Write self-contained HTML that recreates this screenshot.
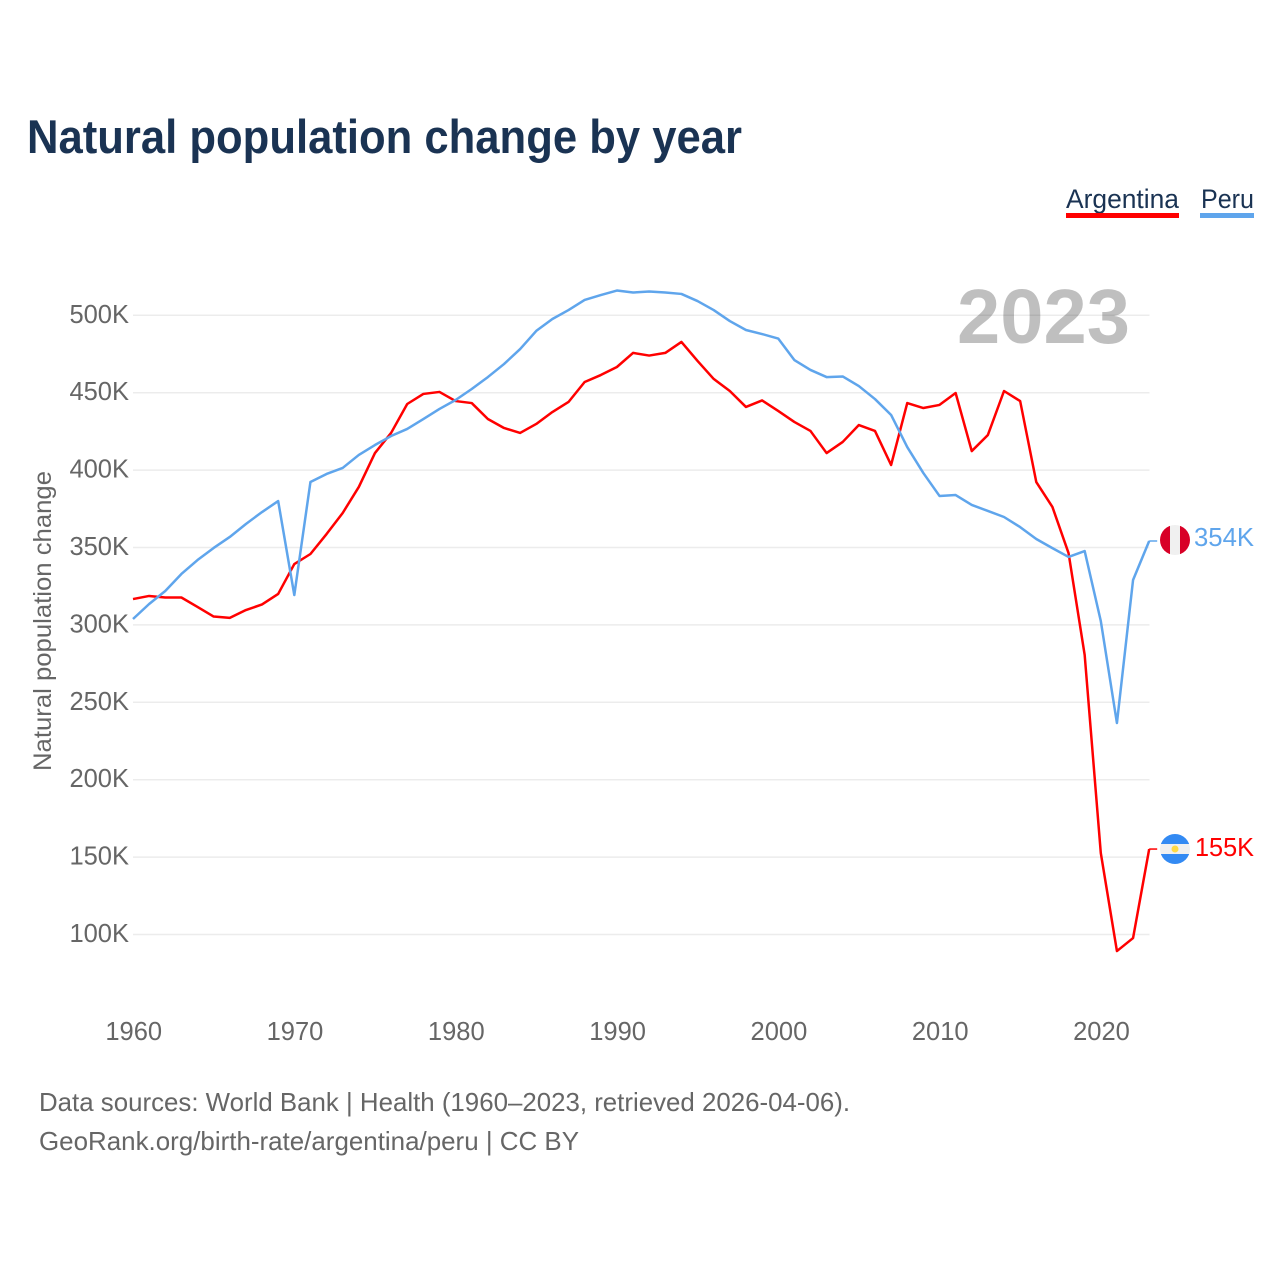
<!DOCTYPE html>
<html lang="en">
<head>
<meta charset="utf-8">
<title>Natural population change by year</title>
<style>
html,body{margin:0;padding:0;background:#fff;}
svg{display:block;font-family:"Liberation Sans",sans-serif;}
</style>
</head>
<body>
<svg id="chart" xmlns="http://www.w3.org/2000/svg" width="1280" height="1280" viewBox="0 0 1280 1280">
  <defs>
    <clipPath id="flag-clip-pe"><circle cx="1175" cy="540" r="15"/></clipPath>
    <clipPath id="flag-clip-ar"><circle cx="1175" cy="849" r="15"/></clipPath>
  </defs>
  <rect width="1280" height="1280" fill="#fff"/>
  <text x="27" y="153" font-size="47" font-weight="700" fill="#1a3353" textLength="715" lengthAdjust="spacingAndGlyphs">Natural population change by year</text>

  <g>
    <g>
      <text x="1066" y="208" font-size="27" fill="#1a3353" textLength="113" lengthAdjust="spacingAndGlyphs">Argentina</text>
      <rect x="1066" y="213" width="113" height="5" fill="#ff0000"/>
    </g>
    <g>
      <text x="1201" y="208" font-size="27" fill="#1a3353" textLength="53" lengthAdjust="spacingAndGlyphs">Peru</text>
      <rect x="1200" y="213" width="54" height="5" fill="#5fa5ec"/>
    </g>
  </g>

  <g id="grid"></g>
  <g id="yticks"></g>
  <g id="xticks"></g>
  <text transform="translate(51 621) rotate(-90)" text-anchor="middle" font-size="25" fill="#666" textLength="300" lengthAdjust="spacingAndGlyphs">Natural population change</text>

  <text x="957" y="343" font-size="77" font-weight="700" fill="#000" fill-opacity="0.25" textLength="173" lengthAdjust="spacingAndGlyphs">2023</text>

  <g id="series"></g>

  <g clip-path="url(#flag-clip-pe)">
    <rect x="1160" y="525" width="10" height="30" fill="#d80027"/>
    <rect x="1170" y="525" width="10" height="30" fill="#f0f0f0"/>
    <rect x="1180" y="525" width="10" height="30" fill="#d80027"/>
  </g>
  <text x="1194" y="546" font-size="25.5" fill="#5fa5ec" textLength="60" lengthAdjust="spacingAndGlyphs">354K</text>

  <g clip-path="url(#flag-clip-ar)">
    <rect x="1160" y="834" width="30" height="10" fill="#338af3"/>
    <rect x="1160" y="844" width="30" height="10" fill="#f0f0f0"/>
    <rect x="1160" y="854" width="30" height="10" fill="#338af3"/>
    <circle cx="1175" cy="849" r="3.5" fill="#ffda44"/>
  </g>
  <text x="1195" y="856" font-size="25.5" fill="#ff0000" textLength="59" lengthAdjust="spacingAndGlyphs">155K</text>

  <text x="39" y="1111" font-size="26" fill="#666" textLength="811" lengthAdjust="spacingAndGlyphs">Data sources: World Bank | Health (1960–2023, retrieved 2026-04-06).</text>
  <text x="39" y="1150" font-size="26" fill="#666" textLength="540" lengthAdjust="spacingAndGlyphs">GeoRank.org/birth-rate/argentina/peru | CC BY</text>
</svg>
<script>
var startYear = 1960;
var yTickValues = [100, 150, 200, 250, 300, 350, 400, 450, 500];
var yTickLabels = ["100K", "150K", "200K", "250K", "300K", "350K", "400K", "450K", "500K"];
var xTickValues = [1960, 1970, 1980, 1990, 2000, 2010, 2020];
var xTickLabels = ["1960", "1970", "1980", "1990", "2000", "2010", "2020"];
var argentinaValues = [316.7,318.7,317.7,317.7,311.6,305.4,304.5,309.6,313.2,320,339.3,345.8,358.7,372.3,389.1,411,424,442.7,449.2,450.5,444.6,443.3,433,427.2,424,429.8,437.5,444,456.9,461.4,466.6,475.7,474,475.7,482.8,470.5,458.9,451.1,440.8,445,438.2,431.1,425.3,411,418.2,429.1,425.3,403.3,443.3,440.1,442.1,449.8,412.3,422.7,451.1,444.6,392.3,376.2,346.4,280.6,152.6,89.3,97.7,155.2];
var peruValues = [303.8,313.5,321.9,332.9,341.9,349.7,356.8,365.2,372.9,380,319.3,392.3,397.5,401.4,409.8,416.2,422,426.6,433,439.5,445.3,452.4,460.1,468.5,478.2,489.9,497.6,503.4,509.9,513.1,516,514.7,515.4,514.7,513.8,509.2,503.4,496.3,490.5,487.9,485,471.1,464.7,460.1,460.5,454.3,445.9,435.6,414.9,398.1,383.3,383.9,377.5,373.6,369.7,363.2,355.5,349.6,343.9,347.7,302.5,236.6,329,354.2];

var NS = "http://www.w3.org/2000/svg";
function xScale(year) { return 133 + (year - 1960) * 16.13; }
function yScale(value) { return 934.5 - (value - 100) * 1.548; }
function svgEl(tag, attrs, parent) {
  var el = document.createElementNS(NS, tag);
  for (var k in attrs) { el.setAttribute(k, attrs[k]); }
  parent.appendChild(el);
  return el;
}

var grid = document.getElementById("grid");
var yticks = document.getElementById("yticks");
var xticks = document.getElementById("xticks");
var series = document.getElementById("series");

yTickValues.forEach(function (v, i) {
  var line = svgEl("line", {x1: 133, x2: 1149.5, y1: yScale(v), y2: yScale(v), stroke: "#ececec", "stroke-width": 1.5}, grid);
  
  
  var label = svgEl("text", {x: 129, y: yScale(v) + 7.5, "text-anchor": "end", "font-size": 25.5, fill: "#666"}, yticks);
  
  
  label.textContent = yTickLabels[i];
});

xTickValues.forEach(function (yr, i) {
  var label = svgEl("text", {x: xScale(yr) + 0.7, y: 1040, "text-anchor": "middle", "font-size": 25.5, fill: "#666"}, xticks);
  
  
  label.textContent = xTickLabels[i];
});

function drawSeries(values, color, lineName, connectorName) {
  var pts = values.map(function (v, i) {
    return xScale(startYear + i).toFixed(2) + "," + yScale(v).toFixed(2);
  }).join(" ");
  var line = svgEl("polyline", {points: pts, fill: "none", stroke: color, "stroke-width": 2.5, "stroke-linejoin": "round"}, series);
  
  
  var lastValue = values[values.length - 1];
  var lastX = xScale(startYear + values.length - 1);
  var connector = svgEl("line", {x1: lastX, x2: lastX + 8, y1: yScale(lastValue), y2: yScale(lastValue), stroke: color, "stroke-width": 1.5}, series);
  
  
}
drawSeries(argentinaValues, "#ff0000", "line-argentina", "connector-argentina");
drawSeries(peruValues, "#5fa5ec", "line-peru", "connector-peru");
</script>
</body>
</html>
